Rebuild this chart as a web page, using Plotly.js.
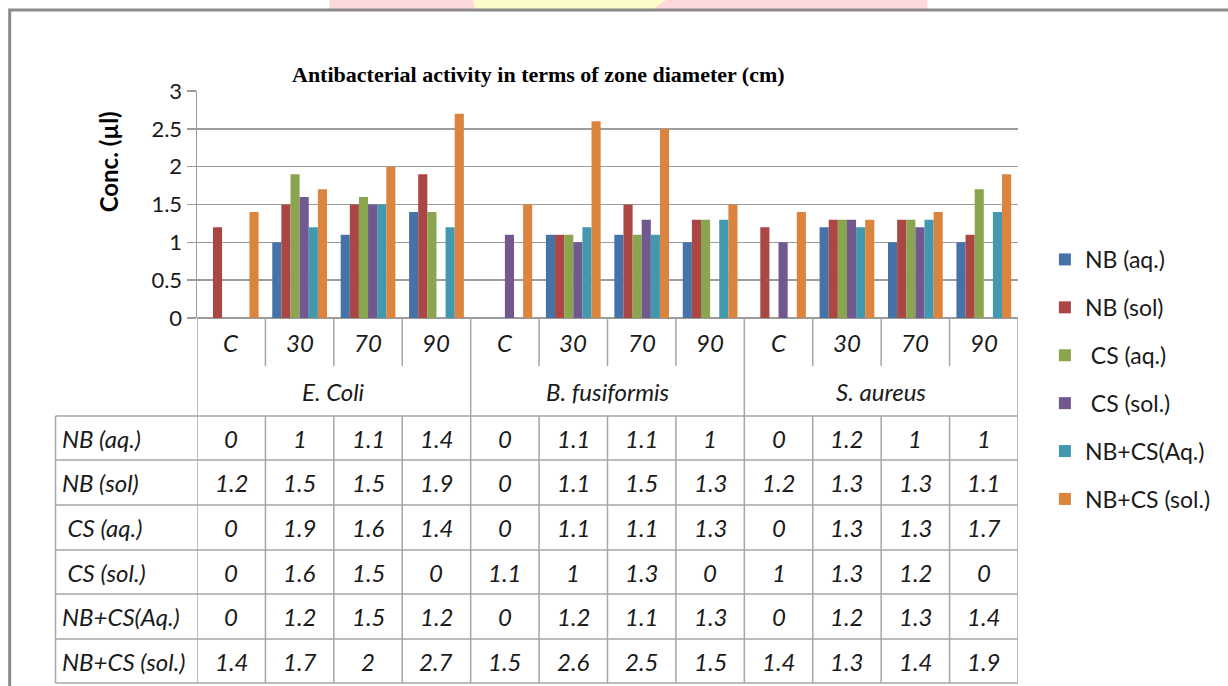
<!DOCTYPE html>
<html>
<head>
<meta charset="utf-8">
<script src="https://cdn.plot.ly/plotly-3.0.1.min.js"></script>
<style>
  html, body { margin: 0; padding: 0; background: #ffffff; }
  #chart { width: 1228px; height: 686px; }
</style>
</head>
<body>
<div id="chart"></div>
<script>
// Organisms (outer category level) and concentrations (inner level)
const organisms = ['E. Coli', 'B. fusiformis', 'S. aureus'];
const concentrations = ['C', '30', '70', '90'];

// Series names as shown in the legend and the data table
const seriesNames = ['NB (aq.)', 'NB (sol)', '\u00a0CS (aq.)', '\u00a0CS (sol.)', 'NB+CS(Aq.)', 'NB+CS (sol.)'];

// Zone diameter values, one entry per organism/concentration column
const nbAq    = [0, 1, 1.1, 1.4,   0, 1.1, 1.1, 1,     0, 1.2, 1, 1];
const nbSol   = [1.2, 1.5, 1.5, 1.9, 0, 1.1, 1.5, 1.3, 1.2, 1.3, 1.3, 1.1];
const csAq    = [0, 1.9, 1.6, 1.4, 0, 1.1, 1.1, 1.3,   0, 1.3, 1.3, 1.7];
const csSol   = [0, 1.6, 1.5, 0,   1.1, 1, 1.3, 0,     1, 1.3, 1.2, 0];
const nbCsAq  = [0, 1.2, 1.5, 1.2, 0, 1.2, 1.1, 1.3,   0, 1.2, 1.3, 1.4];
const nbCsSol = [1.4, 1.7, 2, 2.7, 1.5, 2.6, 2.5, 1.5, 1.4, 1.3, 1.4, 1.9];

const yTickValues = [0, 0.5, 1, 1.5, 2, 2.5, 3];
const yTickLabels = ['0', '0.5', '1', '1.5', '2', '2.5', '3'];

const seriesValues = [nbAq, nbSol, csAq, csSol, nbCsAq, nbCsSol];
const seriesColors = ['#4572A7', '#AA4643', '#89A54E', '#71588F', '#4198AF', '#DB843D'];

// ---- page geometry (pixels) ----
const W = 1228, H = 686;
const L = 197, R = 1021, T = 91, B = 318;
const px = x => (x - L) / (R - L);          // pixel x -> paper x
const py = y => (B - y) / (B - T);          // pixel y -> paper y

const BODY_FONT = 'Lato, Carlito, Calibri, sans-serif';
const GRID = '#9c9c9c';
const TABLE_LINE = '#a6a6a6';

// column index for every organism/concentration pair
const columns = [];
organisms.forEach((org, g) => concentrations.forEach((c, k) => columns.push({ org, c, idx: g * concentrations.length + k })));
const xIndex = columns.map(col => col.idx);

const traces = seriesNames.map((name, s) => ({
  type: 'bar',
  name: name,
  x: xIndex,
  y: seriesValues[s],
  marker: { color: seriesColors[s], line: { width: 0 } },
  legendgroup: 'g' + s,
  hoverinfo: 'skip'
}));

const shapes = [];
const annotations = [];

// banner strip along the very top edge
shapes.push({ type: 'rect', xref: 'paper', yref: 'paper', layer: 'below',
  x0: px(330), x1: px(930), y0: py(0), y1: py(9), fillcolor: '#fcd7dc', line: { width: 0 } });
shapes.push({ type: 'path', xref: 'paper', yref: 'paper', layer: 'below',
  path: `M ${px(474)} ${py(0)} L ${px(668)} ${py(0)} L ${px(655)} ${py(9)} L ${px(476)} ${py(9)} Z`,
  fillcolor: '#fdfbc8', line: { width: 0 } });

// outer frame
shapes.push({ type: 'rect', xref: 'paper', yref: 'paper',
  x0: px(9), x1: px(1260), y0: py(10), y1: py(720), line: { color: '#8a8a8a', width: 3 } });

// data table: horizontal rules
const rowLines = [416, 460, 505, 550, 594, 639, 683];
rowLines.forEach(y => shapes.push({ type: 'line', xref: 'paper', yref: 'paper',
  x0: px(55), x1: 1, y0: py(y), y1: py(y), line: { color: TABLE_LINE, width: 1.5 } }));
// left border of the row-label column
shapes.push({ type: 'line', xref: 'paper', yref: 'paper',
  x0: px(55), x1: px(55), y0: py(416), y1: py(683), line: { color: TABLE_LINE, width: 1.5 } });

// column boundaries
const nCols = columns.length;
for (let b = 0; b <= nCols; b++) {
  const xb = b - 0.5;
  if (b % concentrations.length === 0) {
    shapes.push({ type: 'line', xref: 'x', yref: 'paper', x0: xb, x1: xb, y0: py(318), y1: py(683),
      line: { color: TABLE_LINE, width: 1.5 } });
  } else {
    shapes.push({ type: 'line', xref: 'x', yref: 'paper', x0: xb, x1: xb, y0: py(318), y1: py(366),
      line: { color: TABLE_LINE, width: 1.5 } });
    shapes.push({ type: 'line', xref: 'x', yref: 'paper', x0: xb, x1: xb, y0: py(416), y1: py(683),
      line: { color: TABLE_LINE, width: 1.5 } });
  }
}

const cellFont = { family: BODY_FONT, size: 24, color: '#1a1a1a', style: 'italic' };

// concentration labels under each column
columns.forEach(col => annotations.push({ xref: 'x', yref: 'paper', x: col.idx, y: py(342),
  text: col.c, showarrow: false, font: cellFont, xanchor: 'center', yanchor: 'middle' }));

// organism labels centred under each group
organisms.forEach((org, g) => annotations.push({ xref: 'x', yref: 'paper',
  x: g * concentrations.length + (concentrations.length - 1) / 2, y: py(391),
  text: org, showarrow: false, font: cellFont, xanchor: 'center', yanchor: 'middle' }));

// table rows: series label + value per column
seriesNames.forEach((name, s) => {
  const yc = (rowLines[s] + rowLines[s + 1]) / 2;
  annotations.push({ xref: 'paper', yref: 'paper', x: px(59), y: py(yc), text: name,
    showarrow: false, font: cellFont, xanchor: 'left', yanchor: 'middle' });
  seriesValues[s].forEach((v, i) => annotations.push({ xref: 'x', yref: 'paper', x: xIndex[i], y: py(yc),
    text: String(v), showarrow: false, font: cellFont, xanchor: 'center', yanchor: 'middle' }));
});

// chart title
annotations.push({ xref: 'paper', yref: 'paper', x: px(540), y: py(75),
  text: '<b>Antibacterial activity in terms of zone diameter (cm)</b>', showarrow: false,
  font: { family: '"Liberation Serif", "Times New Roman", serif', size: 22, color: '#000' },
  xanchor: 'center', yanchor: 'middle' });

// value-axis title
annotations.push({ xref: 'paper', yref: 'paper', x: px(108), y: py(162), textangle: -90,
  text: '<b>Conc. (µl)</b>', showarrow: false,
  font: { family: BODY_FONT, size: 24, color: '#000' }, xanchor: 'center', yanchor: 'middle' });

const layout = {
  width: W, height: H,
  margin: { l: L, r: W - R, t: T, b: H - B, pad: 0 },
  paper_bgcolor: '#ffffff', plot_bgcolor: '#ffffff',
  barmode: 'group', bargap: 0.2, bargroupgap: 0,
  showlegend: true,
  legend: {
    x: px(1048), xanchor: 'left', y: py(238), yanchor: 'top',
    font: { family: BODY_FONT, size: 23, color: '#1a1a1a' },
    tracegroupgap: 15, bgcolor: 'rgba(0,0,0,0)', borderwidth: 0,
    maxheight: 686
  },
  xaxis: {
    range: [-0.5, nCols - 0.5], showticklabels: false, showgrid: false,
    zeroline: false, showline: false, ticks: '', fixedrange: true
  },
  yaxis: {
    range: [0, 3], tickvals: yTickValues, ticktext: yTickLabels,
    showgrid: true, gridcolor: GRID, gridwidth: 1.5,
    zeroline: true, zerolinecolor: GRID, zerolinewidth: 1.5,
    showline: true, linecolor: GRID, linewidth: 1.5,
    ticks: 'outside', ticklen: 9, tickcolor: GRID, tickwidth: 1.5,
    tickfont: { family: BODY_FONT, size: 22, color: '#1a1a1a' },
    fixedrange: true
  },
  shapes: shapes,
  annotations: annotations
};

Plotly.newPlot('chart', traces, layout, { displayModeBar: false, staticPlot: true });
</script>
</body>
</html>
